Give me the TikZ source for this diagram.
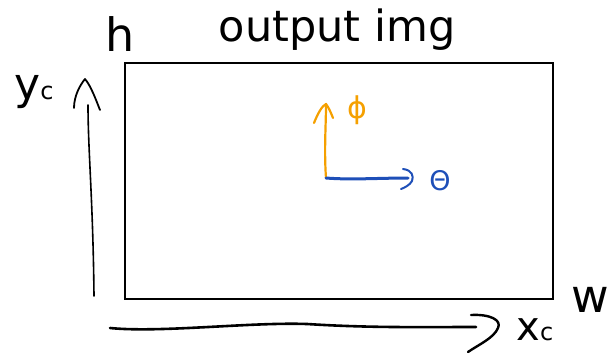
\documentclass[tikz,border=0pt]{standalone}
\usepackage{fontspec}
\setmainfont{DejaVu Sans}
\definecolor{penorange}{HTML}{F5A000}
\definecolor{penblue}{HTML}{1E4FB8}
\newcommand{\fsz}[1]{\fontsize{#1}{#1}\selectfont}
\begin{document}
\begin{tikzpicture}[x=1pt,y=-1pt,
  pen/.style={line width=2pt,line cap=round,line join=round},
  lbl/.style={inner sep=0pt,font=\fsz{36}}]
\useasboundingbox (0,0) rectangle (608,354);
% image frame
\node[draw,line width=1.5pt,minimum width=428pt,minimum height=236pt,inner sep=0pt,anchor=north west] (img) at (124,62) {};
% labels
\node[lbl,font=\fsz{43}] (title) at (337,30) {output img};
\node[lbl,font=\fsz{46}] (h) at (120,34) {h};
\node[lbl,font=\fsz{46}] (w) at (590,300) {w};
\node[lbl,font=\fsz{44}] (yc) at (34,92) {y{\fsz{24}c}};
\node[lbl,font=\fsz{40}] (xc) at (535,330) {x{\fsz{24}c}};
% y axis
\coordinate (ybot) at (94,296);
\coordinate (ytop) at (85,79);
\draw[pen,line width=1.6pt] (ybot) .. controls (93,200) and (88,150) .. (88,105);
\draw[pen,line width=1.8pt] (74,108) .. controls (74,96) and (80,85) .. (ytop) .. controls (91,86) and (96,100) .. (100,110);
% x axis
\coordinate (xl) at (110,328);
\coordinate (xr) at (476,327);
\draw[pen,line width=2.6pt] (xl) .. controls (160,333) and (250,322) .. (307,324) .. controls (370,328) and (420,327) .. (xr);
\draw[pen,line width=2.4pt] (471,315) .. controls (490,314) and (502,320) .. (498,328) .. controls (494,338) and (478,345) .. (468,352);
% local frame
\coordinate (o) at (326,178);
\coordinate (ptop) at (326,104);
\coordinate (tend) at (408,178);
\draw[pen,penorange,line width=2.2pt] (o) .. controls (324,150) and (326,125) .. (ptop);
\draw[pen,penorange,line width=2.2pt] (314,123) .. controls (318,113) and (322,106) .. (ptop) .. controls (329,108) and (331,113) .. (333,118);
\draw[pen,penblue,line width=3pt] (o) .. controls (350,180) and (380,178) .. (tend);
\draw[pen,penblue,line width=2pt] (403,169) .. controls (412,170) and (414,176) .. (412,181) .. controls (410,185) and (404,188) .. (401,189);
\node[lbl,penorange,font=\fsz{30}] (phi) at (357,110) {ϕ};
\node[lbl,penblue,font=\fsz{27}] (theta) at (440,181) {Θ};
\end{tikzpicture}
\end{document}
